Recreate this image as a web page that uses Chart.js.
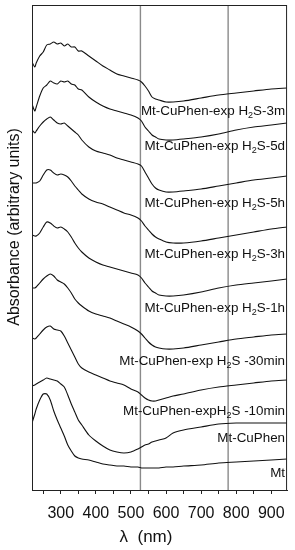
<!DOCTYPE html>
<html>
<head>
<meta charset="utf-8">
<script src="https://cdn.jsdelivr.net/npm/chart.js@4.4.1/dist/chart.umd.min.js"></script>
<style>
  html, body { margin: 0; padding: 0; background: #fff; }
  #wrap { width: 295px; height: 550px; }
</style>
</head>
<body>
<div id="wrap"><canvas id="uvvis"></canvas></div>
<script>
// wavelength grid (nm)
const lambda = [218, 226, 230, 240, 250, 260, 270, 280, 290, 300, 310, 320, 330, 340, 350, 360, 380, 400, 420, 440,
  460, 480, 500, 520, 530, 540, 550, 560, 570, 580, 600, 620, 650, 700, 750, 800, 850, 900, 945];

// absorbance, arbitrary units (offset spectra, top to bottom)
const h2s3m = [428, 423, 427, 434, 438, 445, 446, 448, 446, 447, 444, 446, 443, 443, 439, 439, 434, 429, 424, 420,
  416, 414, 412, 410, 408, 404, 399, 393, 391, 390, 388, 388, 389, 392, 395, 397, 399, 401, 402];
const h2s5d = [386, 379, 383, 394, 402, 405, 409, 407, 406, 409, 408, 409, 406, 405, 401, 400, 393, 388, 384, 381,
  379, 377, 375, 372, 369, 363, 359, 355, 353, 351, 350, 350, 351, 353, 356, 360, 363, 365, 367];
const h2s5h = [360, 357, 359, 364, 368, 371, 373, 370, 367, 366, 367, 364, 361, 358, 355, 350, 343, 339, 337, 335,
  332, 330, 328, 326, 324, 318, 312, 306, 302, 300, 298, 298, 299, 301, 304, 307, 310, 312, 314];
const h2s3h = [307, 307, 307, 309, 315, 320, 320, 317, 315, 316, 315, 313, 309, 304, 300, 296, 291, 288, 286, 283,
  280, 277, 275, 272, 269, 264, 260, 256, 253, 251, 248, 247, 247, 249, 252, 255, 258, 261, 263];
const h2s1h = [255, 254, 254, 257, 263, 268, 267, 264, 262, 263, 261, 258, 253, 247, 242, 238, 232, 228, 225, 223,
  221, 219, 217, 215, 212, 207, 203, 199, 197, 195, 194, 194, 195, 198, 202, 205, 207, 209, 211];
const h2s30min = [202, 202, 203, 207, 211, 214, 216, 214, 210, 208, 206, 202, 197, 191, 187, 184, 179, 176, 174, 172,
  169, 166, 163, 159, 156, 152, 148, 145, 143, 142, 141, 141, 142, 145, 148, 151, 153, 155, 156];
const h2s10min = [152, 151, 152, 156, 160, 163, 164, 161, 160, 159, 154, 147, 140, 133, 126, 122, 118, 115, 112, 109,
  107, 105, 101, 98, 95, 92, 90, 89, 89, 90, 92, 94, 96, 100, 103, 105, 107, 109, 110];
const mtCuPhen = [104, 105, 106, 108, 110, 112, 111, 110, 109, 106, 103, 95, 86, 78, 70, 65, 55, 49, 44, 40,
  38, 37, 38, 41, 43, 45, 46, 48, 49, 50, 52, 57, 60, 63, 66, 67, 67, 67, 67];
const mt = [67, 76, 81, 90, 96, 96, 90, 79, 70, 62, 54, 45, 39, 34, 32, 31, 30, 28, 26, 25,
  24, 24, 23, 23, 22, 22, 22, 22, 22, 22, 23, 23, 24, 25, 27, 28, 29, 30, 31];

const series = [h2s3m, h2s5d, h2s5h, h2s3h, h2s1h, h2s30min, h2s10min, mtCuPhen, mt];

// curve labels ("_2" = subscript) and the absorbance level each label sits at
const seriesNames = ['Mt-CuPhen-exp H_2S-3m', 'Mt-CuPhen-exp H_2S-5d', 'Mt-CuPhen-exp H_2S-5h',
  'Mt-CuPhen-exp H_2S-3h', 'Mt-CuPhen-exp H_2S-1h', 'Mt-CuPhen-exp H_2S -30min',
  'Mt-CuPhen-expH_2S -10min', 'Mt-CuPhen', 'Mt'];
const nameLevels = [379, 344, 287, 236, 182, 129, 79, 52, 17];

// reference wavelengths marked with vertical lines
const markers = [527, 777];

const xTicks = [250, 300, 350, 400, 450, 500, 550, 600, 650, 700, 750, 800, 850, 900];

const datasets = series.map(s => ({
  data: lambda.map((x, i) => ({ x: x, y: s[i] })),
  borderColor: '#111',
  borderWidth: 1.1,
  pointRadius: 0,
  tension: 0.25,
  order: 1
}));
markers.forEach(m => {
  datasets.push({
    data: [{ x: m, y: 0 }, { x: m, y: 485 }],
    borderColor: '#8a8a8a',
    borderWidth: 1.4,
    pointRadius: 0,
    order: 5
  });
});

function drawSubText(ctx, str, xRight, y, size) {
  const parts = str.split('_');
  const pieces = [];
  parts.forEach((p, i) => {
    if (i === 0) { pieces.push({ t: p, sub: false }); return; }
    pieces.push({ t: p.charAt(0), sub: true });
    pieces.push({ t: p.slice(1), sub: false });
  });
  const big = size + 'px "Liberation Sans", Arial, sans-serif';
  const small = Math.round(size * 0.65) + 'px "Liberation Sans", Arial, sans-serif';
  let total = 0;
  pieces.forEach(pc => { ctx.font = pc.sub ? small : big; pc.w = ctx.measureText(pc.t).width; total += pc.w; });
  let x = xRight - total;
  ctx.textAlign = 'left';
  ctx.textBaseline = 'middle';
  pieces.forEach(pc => {
    ctx.font = pc.sub ? small : big;
    ctx.fillText(pc.t, x, pc.sub ? y + size * 0.3 : y);
    x += pc.w;
  });
}

const decor = {
  id: 'decor',
  afterDraw(chart) {
    const { ctx, chartArea: a, scales } = chart;
    ctx.save();
    ctx.strokeStyle = '#222';
    ctx.lineWidth = 1;
    ctx.strokeRect(a.left + 0.5, a.top + 0.5, a.right - a.left - 1, a.bottom - a.top);
    ctx.fillStyle = '#111';
    seriesNames.forEach((n, i) => {
      drawSubText(ctx, n, a.right - 2, scales.y.getPixelForValue(nameLevels[i]), 13.4);
    });
    // axis titles
    ctx.font = '16px "Liberation Sans", Arial, sans-serif';
    ctx.textAlign = 'center';
    ctx.textBaseline = 'middle';
    ctx.save();
    ctx.translate(a.left - 17, a.top + 222);
    ctx.rotate(-Math.PI / 2);
    ctx.fillText('Absorbance (arbitrary units)', 0, 0);
    ctx.restore();
    ctx.font = '17px "Liberation Sans", Arial, sans-serif';
    ctx.fillText('\u03bb  (nm)', a.left + 114, a.bottom + 47);
    ctx.restore();
  }
};

new Chart(document.getElementById('uvvis').getContext('2d'), {
  type: 'line',
  data: { datasets: datasets },
  options: {
    responsive: true,
    maintainAspectRatio: false,
    animation: false,
    layout: { padding: { left: 32, right: 6, top: 5, bottom: 0 } },
    plugins: { legend: { display: false }, tooltip: { enabled: false } },
    scales: {
      x: {
        type: 'linear',
        min: 218,
        max: 945,
        afterBuildTicks: scale => { scale.ticks = xTicks.map(v => ({ value: v })); },
        afterFit: scale => { scale.height = 60; },
        ticks: {
          color: '#111',
          padding: 10,
          maxRotation: 0,
          autoSkip: false,
          font: { family: '"Liberation Sans", Arial, sans-serif', size: 16 },
          callback: v => (v % 100 === 0 ? v : '')
        },
        grid: { display: true, drawOnChartArea: false, tickLength: 4, color: '#222' },
        border: { display: true, color: '#222' }
      },
      y: { display: false, min: 0, max: 485 }
    }
  },
  plugins: [decor]
});
</script>
</body>
</html>
